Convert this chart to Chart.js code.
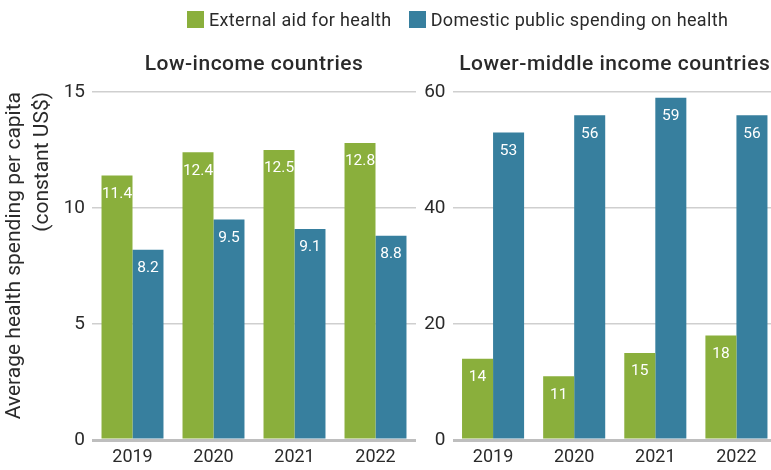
<!DOCTYPE html>
<html>
<head>
<meta charset="utf-8">
<script src="https://cdn.jsdelivr.net/npm/chart.js@4.4.1/dist/chart.umd.min.js"></script>
<style>
  html, body { margin: 0; padding: 0; width: 771px; height: 470px; overflow: hidden; background: #fff; }
  #wrap { position: relative; width: 771px; height: 470px; overflow: hidden; }
  #c1 { position: absolute; left: 0; top: 0; }
  #c2 { position: absolute; left: 416px; top: 0; }
  #legend { position: absolute; top: 9px; left: 187px; display: flex; align-items: center; font-family: Roboto, sans-serif; font-size: 18px; letter-spacing: 0.35px; color: #2a2a2a; white-space: nowrap; }
  #legend .box { display: inline-block; width: 17px; height: 17px; margin-right: 5px; }
  #legend .item { display: flex; align-items: center; margin-right: 17px; }
</style>
</head>
<body>
<div id="wrap">
  <canvas id="c1" width="416" height="470"></canvas>
  <canvas id="c2" width="361" height="470"></canvas>
  <div id="legend"></div>
</div>
<script>
// ---- Data ----
const years = ["2019", "2020", "2021", "2022"];
const seriesNames = ["External aid for health", "Domestic public spending on health"];
const seriesColors = ["#8AAF3C", "#377F9E"];
const lowIncomeAid = [11.4, 12.4, 12.5, 12.8];
const lowIncomeDomestic = [8.2, 9.5, 9.1, 8.8];
const lowerMiddleAid = [14, 11, 15, 18];
const lowerMiddleDomestic = [53, 56, 59, 56];
const panelTitles = ["Low-income countries", "Lower-middle income countries"];
const yTitleLines = ["Average health spending per capita", "(constant US$)"];
const lowTicks = { max: 15, step: 5 };
const lmTicks = { max: 60, step: 20 };

const FONT = "Roboto, sans-serif";
const TEXT = "#2a2a2a";

// Legend (HTML, real text)
const legendEl = document.getElementById('legend');
seriesNames.forEach((n, i) => {
  const it = document.createElement('span');
  it.className = 'item';
  const b = document.createElement('span');
  b.className = 'box';
  b.style.background = seriesColors[i];
  it.appendChild(b);
  it.appendChild(document.createTextNode(n));
  legendEl.appendChild(it);
});

// Value labels inside bars
const valueLabels = {
  id: 'valueLabels',
  afterDatasetsDraw(chart, args, opts) {
    const ctx = chart.ctx;
    ctx.save();
    ctx.fillStyle = '#ffffff';
    ctx.font = '15.5px ' + FONT;
    ctx.textAlign = 'center';
    ctx.textBaseline = 'middle';
    chart.data.datasets.forEach((ds, di) => {
      const meta = chart.getDatasetMeta(di);
      meta.data.forEach((bar, i) => {
        const v = ds.data[i];
        const txt = opts.decimals ? v.toFixed(1) : String(v);
        ctx.fillText(txt, bar.x, bar.y + 18.5);
      });
    });
    ctx.restore();
  }
};

// Panel title centred over the plot area
const panelTitle = {
  id: 'panelTitle',
  afterDraw(chart, args, opts) {
    const ctx = chart.ctx;
    const a = chart.chartArea;
    ctx.save();
    ctx.fillStyle = TEXT;
    ctx.font = '500 21px ' + FONT;
    if ('letterSpacing' in ctx) ctx.letterSpacing = '0.5px';
    ctx.textAlign = 'center';
    ctx.textBaseline = 'middle';
    ctx.fillText(opts.text, (a.left + a.right) / 2, 65);
    ctx.restore();
  }
};

// Rotated two-line y-axis title (left panel)
const yTitle = {
  id: 'yTitle',
  afterDraw(chart, args, opts) {
    if (!opts.show) return;
    const ctx = chart.ctx;
    const top = chart.chartArea.top;
    ctx.save();
    ctx.translate(0, top);
    ctx.rotate(-Math.PI / 2);
    ctx.fillStyle = TEXT;
    ctx.font = '21px ' + FONT;
    ctx.textAlign = 'right';
    ctx.textBaseline = 'middle';
    ctx.fillText(yTitleLines[0], 0, 15);
    ctx.fillText(yTitleLines[1], 0, 43);
    ctx.restore();
  }
};

function makeChart(canvasId, title, aid, dom, ticks, yWidth, decimals, showYTitle) {
  return new Chart(document.getElementById(canvasId), {
    type: 'bar',
    data: {
      labels: years,
      datasets: [
        { label: seriesNames[0], data: aid, backgroundColor: seriesColors[0] },
        { label: seriesNames[1], data: dom, backgroundColor: seriesColors[1] }
      ]
    },
    options: {
      responsive: false,
      animation: false,
      devicePixelRatio: 1,
      layout: { padding: { top: 92, left: 0, right: 0, bottom: 0 } },
      datasets: { bar: { categoryPercentage: 0.765, barPercentage: 1.0 } },
      plugins: {
        legend: { display: false },
        tooltip: { enabled: false },
        title: { display: false },
        panelTitle: { text: title },
        valueLabels: { decimals: decimals },
        yTitle: { show: showYTitle }
      },
      scales: {
        x: {
          grid: { display: false, drawTicks: false },
          border: { display: false },
          ticks: { color: TEXT, font: { family: FONT, size: 18 }, padding: 7 },
          afterFit(s) { s.height = 30; }
        },
        y: {
          min: 0,
          max: ticks.max,
          grid: {
            drawTicks: false,
            color: (c) => c.tick && c.tick.value === 0 ? '#BEBEBE' : '#CFCFCF',
            lineWidth: (c) => c.tick && c.tick.value === 0 ? 3 : 1.5
          },
          border: { display: false },
          ticks: { stepSize: ticks.step, color: TEXT, font: { family: FONT, size: 19 }, padding: 7 },
          afterFit(s) { s.width = yWidth; }
        }
      }
    },
    plugins: [valueLabels, panelTitle, yTitle]
  });
}

makeChart('c1', panelTitles[0], lowIncomeAid, lowIncomeDomestic, lowTicks, 92, true, true);
makeChart('c2', panelTitles[1], lowerMiddleAid, lowerMiddleDomestic, lmTicks, 36.5, false, false);
</script>
</body>
</html>
